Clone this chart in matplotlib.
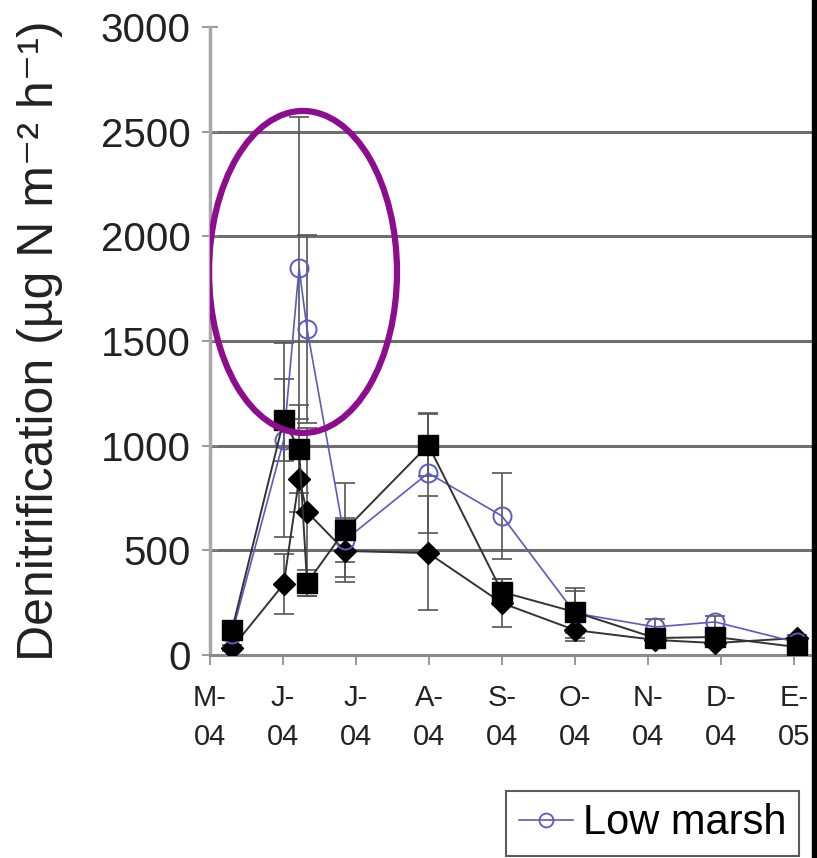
import matplotlib
matplotlib.use("Agg")
import matplotlib.pyplot as plt
from matplotlib.patches import Ellipse, Rectangle
from matplotlib.lines import Line2D

plt.rcParams['font.family'] = ['Liberation Sans', 'DejaVu Sans']

# ---- data (x in months since 1 May 2004) ----
month_labels = ["M-\n04", "J-\n04", "J-\n04", "A-\n04", "S-\n04", "O-\n04", "N-\n04", "D-\n04", "E-\n05"]
sample_x = [0.30, 1.01, 1.22, 1.33, 1.85, 2.99, 4.00, 5.00, 6.10, 6.92, 8.04]

low_marsh = [100, 1027, 1849, 1557, 549, 869, 664, 200, 134, 158, 60]
low_marsh_err = [30, 463, 720, 450, 105, 285, 205, 120, 40, 30, 20]

squares = [119, 1123, 984, 344, 597, 1003, 301, 205, 81, 86, 38]
squares_err = [25, 195, 210, 62, 225, 150, 60, 100, 20, 20, 15]

diamonds = [33, 339, 841, 683, 497, 487, 248, 119, 72, 57, 81]
diamonds_err = [15, 145, 160, 400, 150, 272, 115, 50, 20, 15, 15]

yticks = [0, 500, 1000, 1500, 2000, 2500, 3000]

W, H = 817, 858
fig = plt.figure(figsize=(W / 100, H / 100), dpi=100)
ax = fig.add_axes([210 / W, (H - 655) / H, 602 / W, 628 / H])

ax.set_xlim(0, 602 / 73)
ax.set_ylim(0, 3000)

# grid lines
for v in yticks[1:-1]:
    ax.axhline(v, color='#6e6e6e', lw=2.2, zorder=1)

err_kw = dict(ecolor='#555555', elinewidth=1.2, capsize=7, capthick=1.2)

ax.errorbar(sample_x, diamonds, yerr=diamonds_err, fmt='none', zorder=2, **err_kw)
ax.errorbar(sample_x, squares, yerr=squares_err, fmt='none', zorder=2, **err_kw)
ax.errorbar(sample_x, low_marsh, yerr=low_marsh_err, fmt='none', zorder=2, **err_kw)

ax.plot(sample_x, diamonds, color='#333333', lw=1.4, marker='D', ms=11,
        mfc='black', mec='black', zorder=3)
ax.plot(sample_x, low_marsh, color='#5a5ac0', lw=1.2, marker='o', ms=13,
        mfc='none', mec='#5a5ac0', mew=1.4, zorder=4)
ax.plot(sample_x, squares, color='#333333', lw=1.4, marker='s', ms=15,
        mfc='black', mec='black', zorder=5)

# annotation ellipse around the peak
ell = Ellipse((1.274, 1830), width=188 / 73, height=1538, fill=False,
              edgecolor='#8e0c8e', lw=4.5, zorder=6)
ax.add_patch(ell)

# axes styling
for s in ['top', 'right']:
    ax.spines[s].set_visible(False)
ax.spines['left'].set_color('#a8a8a8')
ax.spines['left'].set_linewidth(2.5)
ax.spines['bottom'].set_color('#8a8a8a')
ax.spines['bottom'].set_linewidth(2.2)

ax.set_yticks(yticks)
ax.set_yticklabels([str(v) for v in yticks], fontsize=29, color='#222222')
ax.tick_params(axis='y', direction='inout', length=12, width=1.2, color='#888888', pad=8)

ax.set_xticks(range(len(month_labels)))
ax.set_xticklabels(month_labels, fontsize=21, color='#222222', linespacing=1.5)
ax.tick_params(axis='x', direction='out', length=7, width=1.2, color='#888888', pad=14)

ax.set_ylabel('Denitrification (µg N m⁻² h⁻¹)', fontsize=36, color='#222222')
ax.yaxis.set_label_coords(-0.244, 0.50)

# legend (only first entry visible in cropped original)
handle = Line2D([], [], color='#5a5ac0', lw=1.2, marker='o', ms=10,
                mfc='none', mec='#5a5ac0', mew=1.3)
leg = fig.legend([handle], ['Low marsh'], loc='upper left',
                 bbox_to_anchor=(506 / W, (H - 791) / H), fontsize=30,
                 frameon=True, fancybox=False, edgecolor='#333333',
                 handlelength=1.3, borderpad=0.3, handletextpad=0.25,
                 borderaxespad=0)
leg.get_frame().set_linewidth(1.5)

# black bar at right edge (crop border)
fig.patches.append(Rectangle((812 / W, 0), 5 / W, 1, transform=fig.transFigure,
                             color='black', zorder=10))

fig.savefig('out.png', dpi=100)
